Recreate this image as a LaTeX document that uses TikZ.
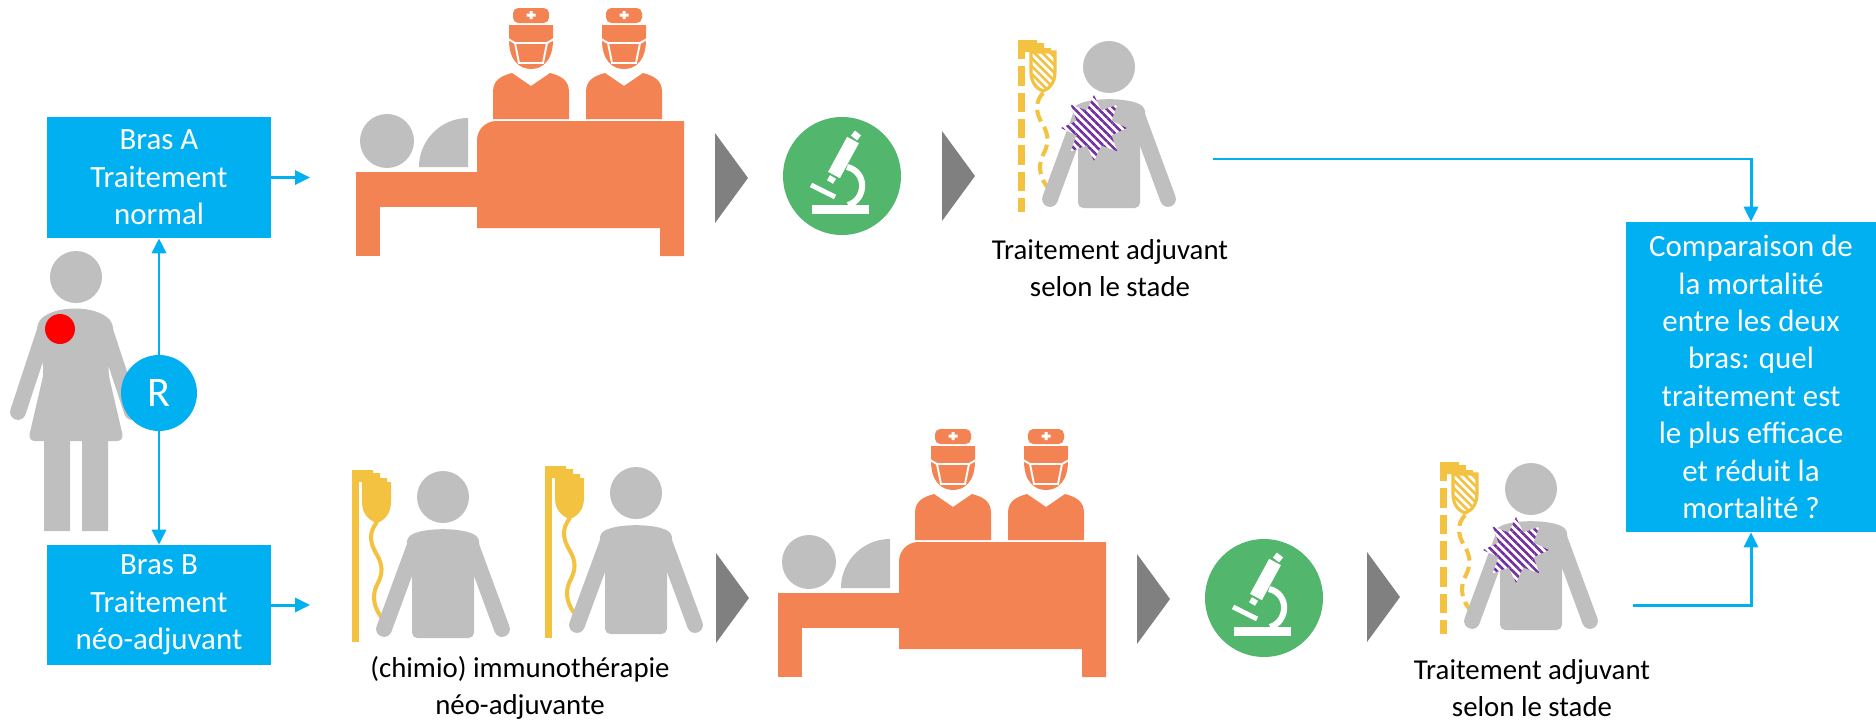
\documentclass[tikz,border=0pt]{standalone}
\usepackage{fontspec}
\setmainfont{Carlito}
\usetikzlibrary{arrows.meta,patterns.meta}

\definecolor{armblue}{HTML}{00B0F0}
\definecolor{bedorange}{HTML}{F48354}
\definecolor{bodygray}{HTML}{BFBFBF}
\definecolor{labgreen}{HTML}{52B66C}
\definecolor{chevgray}{HTML}{808080}
\definecolor{dripgold}{HTML}{F3C240}
\definecolor{sunviolet}{HTML}{7030A0}

\newcommand\armfont{\fontsize{17.6}{21.3}\selectfont}
\newcommand\capfont{\fontsize{16.4}{21}\selectfont}

\tikzset{
  bluebox/.style={fill=armblue, text=white, align=center, inner sep=0pt, font=\armfont},
  caption/.style={align=center, inner sep=0pt, font=\capfont},
  link/.style={armblue, line width=1.7pt, -{Triangle[length=8.5pt,width=8pt]}},
  hatch/.style={preaction={fill=white}, pattern={Lines[angle=-45,distance=3.2pt,line width=1.5pt]}, pattern color=#1},
  % seated patient, origin at the centre of the head
  person/.pic={
    \fill[bodygray] (0,0) circle (26);
    \draw[bodygray, line width=9pt, line cap=round] (-28,48) -- (-59,132) (28,48) -- (59,132);
    \fill[bodygray, rounded corners=3pt] (-31,141) -- (-31,78) -- (-37,42) .. controls (-22,30) and (22,30) .. (37,42) -- (31,78) -- (31,141) -- cycle;
  },
  % infusion stand, same origin as the patient
  drip/.pic={
    \fill[dripgold] (-91,-27) rectangle (-84,145);
    \fill[dripgold] (-84,-27) -- (-70,-27) -- (-70,-24) -- (-63,-24) -- (-63,-19) -- (-56,-19) -- (-56,-15) -- (-84,-15) -- cycle;
    \fill[dripgold] (-81,-15) -- (-52,-15) -- (-52,5) .. controls (-52,18) and (-60,24) .. (-66,26) .. controls (-73,24) and (-81,18) .. (-81,5) -- cycle;
    \draw[dripgold, line width=2.3pt] (-66,25) .. controls (-74,35) and (-74,45) .. (-66,58) .. controls (-58,72) and (-62,80) .. (-67,90) .. controls (-71,100) and (-69,112) .. (-60,122);
  },
  dripdash/.pic={
    \draw[dripgold, line width=4pt, dash pattern=on 11pt off 4pt] (-87.5,-27) -- (-87.5,145);
    \fill[dripgold] (-84,-27) -- (-72,-27) -- (-72,-24) -- (-65,-24) -- (-65,-19) -- (-58,-19) -- (-58,-15) -- (-84,-15) -- cycle;
    \path[draw=dripgold, line width=1.8pt, hatch=dripgold] (-78,-15) -- (-54,-15) -- (-54,5) .. controls (-54,16) and (-60,22) .. (-66,24) .. controls (-72,22) and (-78,16) .. (-78,5) -- cycle;
    \draw[dripgold, line width=2.3pt, dash pattern=on 7pt off 3.5pt] (-66,26) .. controls (-74,35) and (-74,45) .. (-66,58) .. controls (-58,72) and (-62,80) .. (-67,90) .. controls (-71,100) and (-69,112) .. (-60,122);
  },
  sun/.pic={
    \path[hatch=sunviolet] (0:33) \foreach \a [evaluate=\a as \b using \a+22.5] in {0,45,...,315} { -- (\a:33) -- (\b:19) } -- cycle;
    \path[hatch=sunviolet] (0,0) circle (19);
  },
  % surgeon, origin at the top of the cap
  doctor/.pic={
    \fill[bedorange, rounded corners=3pt] (-18,0) rectangle (18,15);
    \fill[white] (-1.5,3) rectangle (1.5,11) (-4.5,5.5) rectangle (4.5,8.5);
    \fill[bedorange] (-22,17) -- (22,17) -- (22,32) .. controls (22,52) and (12,61) .. (0,61) .. controls (-12,61) and (-22,52) .. (-22,32) -- cycle;
    \draw[white, line width=1.1pt] (-23,31) -- (-16,35) -- (16,35) -- (23,31) (-16,35) -- (-12,55) -- (12,55) -- (16,35);
    \fill[bedorange] (-38,111) -- (-38,84) .. controls (-38,72) and (-30,68) .. (-19,65) -- (0,78) -- (19,65) .. controls (30,68) and (38,72) .. (38,84) -- (38,111) -- cycle;
  },
  % operating table with patient and two surgeons
  surgery/.pic={
    \fill[bodygray] (31,141) circle (27);
    \fill[bodygray] (63,167) .. controls (63,140) and (85,118) .. (112,118) -- (112,167) -- cycle;
    \fill[bedorange] (0,172) rectangle (125,207);
    \fill[bedorange] (0,207) rectangle (24,256);
    \pic at (175,8) {doctor};
    \pic at (268,8) {doctor};
    \fill[bedorange] (121,228) [rounded corners=11pt] -- (121,121) -- (200,121) [sharp corners] -- (328,121) -- (328,256) -- (304,256) -- (304,228) -- cycle;
  },
  microscope/.pic={
    \fill[labgreen] (0,0) circle (59);
    \fill[white] (-30,29) rectangle (27,38);
    \draw[white, line width=2.8pt] (-31,9) -- (-7,21);
    \draw[white, line width=3.5pt] (6,29) .. controls (24,24) and (26,-4) .. (5,-9);
    \draw[white, line width=7.6pt] (11,-36) -- (-8,-1);
    \draw[white, line width=4.5pt] (12,-38) -- (16,-43);
    \draw[white, line width=4pt] (-9,1) -- (-12,6);
  },
  chevron/.pic={
    \fill[chevgray] (0,-45) -- (33,0) -- (0,45) -- cycle;
  }
}

\begin{document}
\begin{tikzpicture}[x=0.02cm, y=-0.02cm]
  \useasboundingbox (0,0) rectangle (1876,720);

  % woman with tumour
  \fill[bodygray] (76,277) circle (26);
  \draw[bodygray, line width=9pt, line cap=round] (45,330) -- (18,412) (105,330) -- (132,412);
  \fill[bodygray, rounded corners=4pt] (36,324) .. controls (55,305) and (95,305) .. (114,324) -- (108,372) -- (124,441) -- (28,441) -- (44,372) -- cycle;
  \fill[bodygray] (44,440) rectangle (70,531) (82,440) rectangle (108,531);
  \fill[red] (60,329) circle (15);

  \node[bluebox, minimum width=4.48cm, minimum height=2.42cm] (boxA) at (159,177.5) {Bras A\\Traitement\\normal};
  \node[bluebox, minimum width=4.48cm, minimum height=2.4cm] (boxB) at (159,605) {Bras B\\Traitement\\néo-adjuvant};
  \node[circle, fill=armblue, text=white, minimum size=1.52cm, inner sep=0pt, font=\fontsize{24}{24}\selectfont] (rnd) at (159,393) {R};
  \node[bluebox, minimum width=5cm, minimum height=6.2cm] (cmp) at (1751,377) {Comparaison de\\la mortalité\\entre les deux\\bras: quel\\traitement est\\le plus efficace\\et réduit la\\mortalité ?};

  % arm A
  \pic at (356,0) {surgery};
  \pic at (715,178) {chevron};
  \pic at (842,176) {microscope};
  \pic at (942,176) {chevron};
  \pic at (1109,67) {dripdash};
  \pic at (1109,67) {person};
  \pic at (1094,128) {sun};
  \node[caption] (adjA) at (1110,268) {Traitement adjuvant\\selon le stade};

  % arm B
  \pic at (443,497) {drip};
  \pic at (443,497) {person};
  \pic at (636,493) {drip};
  \pic at (636,493) {person};
  \node[caption] (neo) at (520,688) {(chimio) immunothérapie\\néo-adjuvante};
  \pic at (716,598) {chevron};
  \pic at (778,421) {surgery};
  \pic at (1137,599) {chevron};
  \pic at (1264,598) {microscope};
  \pic at (1367,597) {chevron};
  \pic at (1531,489) {dripdash};
  \pic at (1531,489) {person};
  \pic at (1516,550) {sun};
  \node[caption] (adjB) at (1532,688) {Traitement adjuvant\\selon le stade};

  \coordinate (inA) at (310,177.5);
  \coordinate (inB) at (310,605);
  \coordinate (outA) at (1213,159);
  \coordinate (outB) at (1633,605);
  \draw[link] (rnd) -- (boxA);
  \draw[link] (rnd) -- (boxB);
  \draw[link] (boxA) -- (inA);
  \draw[link] (boxB) -- (inB);
  \draw[link] (outA) -| (cmp);
  \draw[link] (outB) -| (cmp);
\end{tikzpicture}
\end{document}
